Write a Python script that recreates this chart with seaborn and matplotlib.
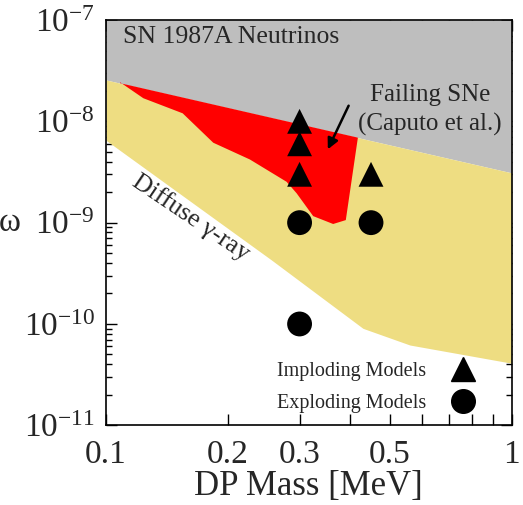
import numpy as np
import pandas as pd
import seaborn as sns
import matplotlib.pyplot as plt
from matplotlib.lines import Line2D
from matplotlib.ticker import FixedLocator, NullFormatter, LogLocator

# bordo inferiore della regione SN 1987A (retta in log-log)
sn_x = [0.1, 1.0]
sn_y = [2.56e-8, 3.1e-9]

# bordo inferiore del gamma diffuso
gam_x = [0.1, 0.256, 0.43, 0.561, 1.0]
gam_y = [6.5e-9, 4.27e-10, 9.05e-11, 6.2e-11, 4.1e-11]

# contorno della regione "Failing SNe" (parte bassa)
red_x = [0.1083, 0.1236, 0.1545, 0.1838, 0.2263, 0.2787, 0.2950, 0.3241, 0.363, 0.390, 0.418]
red_y = [2.43e-8, 1.69e-8, 1.2e-8, 6.15e-9, 4.2e-9, 2.53e-9, 1.95e-9, 1.16e-9, 9.7e-10, 1.06e-9, 7.05e-9]

# modelli
mass = [0.3, 0.3, 0.3, 0.45, 0.3, 0.45, 0.3]
eps = [1e-8, 6e-9, 3e-9, 3e-9, 1e-9, 1e-9, 1e-10]
kind = ["Imploding Models"] * 4 + ["Exploding Models"] * 3

xticks = [0.1, 0.2, 0.3, 0.5, 1]
xticklabels = ["0.1", "0.2", "0.3", "0.5", "1"]
yticks = [1e-11, 1e-10, 1e-9, 1e-8, 1e-7]

sns.set_style("ticks")
plt.rcParams["font.family"] = ["Liberation Serif", "DejaVu Serif"]
plt.rcParams["mathtext.fontset"] = "stix"


def sn_line(x):
    lx = np.log10(x)
    return 10 ** np.interp(lx, np.log10(sn_x), np.log10(sn_y))


fig = plt.figure(figsize=(5.23, 5.05), dpi=100)
ax = fig.add_axes([0.2027, 0.1578, 0.7757, 0.8026])

xx = np.logspace(-1, 0, 200)
ax.fill_between(xx, sn_line(xx), 1e-7, color="#bebebe", lw=0, zorder=1)
gy = 10 ** np.interp(np.log10(xx), np.log10(gam_x), np.log10(gam_y))
ax.fill_between(xx, gy, sn_line(xx), color="#eedd82", lw=0, zorder=1)

# poligono rosso: bordo basso + ritorno lungo la retta grigia
top_x = np.logspace(np.log10(red_x[-1]), np.log10(red_x[0]), 30)
px = list(red_x) + list(top_x)
py = list(red_y) + list(sn_line(top_x))
ax.fill(px, py, color="#ff0000", lw=0, zorder=2)

df = pd.DataFrame({"mass": mass, "eps": eps, "kind": kind})
sns.scatterplot(
    data=df, x="mass", y="eps", style="kind",
    markers={"Imploding Models": "^", "Exploding Models": "o"},
    color="black", s=320, linewidth=0, legend=False, ax=ax, zorder=5
)

ax.set_xscale("log")
ax.set_yscale("log")
ax.set_xlim(0.1, 1)
ax.set_ylim(1e-11, 1e-7)

ax.xaxis.set_major_locator(FixedLocator(xticks))
ax.set_xticklabels(xticklabels)
ax.xaxis.set_minor_locator(FixedLocator([0.4, 0.6, 0.7, 0.8, 0.9]))
ax.xaxis.set_minor_formatter(NullFormatter())
ax.yaxis.set_major_locator(FixedLocator(yticks))
ax.yaxis.set_minor_locator(LogLocator(base=10, subs=np.arange(2, 10), numticks=10))
ax.yaxis.set_minor_formatter(NullFormatter())

ax.tick_params(which="both", direction="in", top=True, right=True, color="black", width=1)
ax.tick_params(axis="x", which="both", length=8, labelsize=24, pad=10)
ax.tick_params(axis="y", which="major", length=8, labelsize=24, pad=8)
ax.tick_params(axis="y", which="minor", length=4)
for s in ax.spines.values():
    s.set_linewidth(1.2)
    s.set_color("black")

ax.set_xlabel("DP Mass [MeV]", fontsize=25, labelpad=0)
ax.set_ylabel("ω", fontsize=24, rotation=0, labelpad=10, va="center")

ax.text(0.1103, 6.84e-8, "SN 1987A Neutrinos", fontsize=18.5, va="center", ha="left", zorder=6)
ax.text(0.628, 1.3e-8, "Failing SNe\n(Caputo et al.)", fontsize=18, va="center", ha="center",
        linespacing=1.38, zorder=6)
ax.annotate("", xy=(0.3498, 5.0e-9), xytext=(0.399, 1.51e-8),
            arrowprops=dict(arrowstyle="-|>", color="black", lw=1.8, mutation_scale=16), zorder=6)
ax.text(0.162, 1.13e-9, "Diffuse γ-ray", fontsize=18.5, rotation=-34, ha="center", va="center",
        rotation_mode="anchor", zorder=6)

handles = [
    Line2D([], [], marker="^", color="black", linestyle="none", markersize=17),
    Line2D([], [], marker="o", color="black", linestyle="none", markersize=17),
]
ax.legend(handles, ["Imploding Models", "Exploding Models"], loc="lower right",
          bbox_to_anchor=(0.949, -0.014), frameon=False, markerfirst=False, fontsize=14.5,
          handletextpad=1.3, labelspacing=0.62, handlelength=1.0)

fig.savefig("out.png", dpi=100)
